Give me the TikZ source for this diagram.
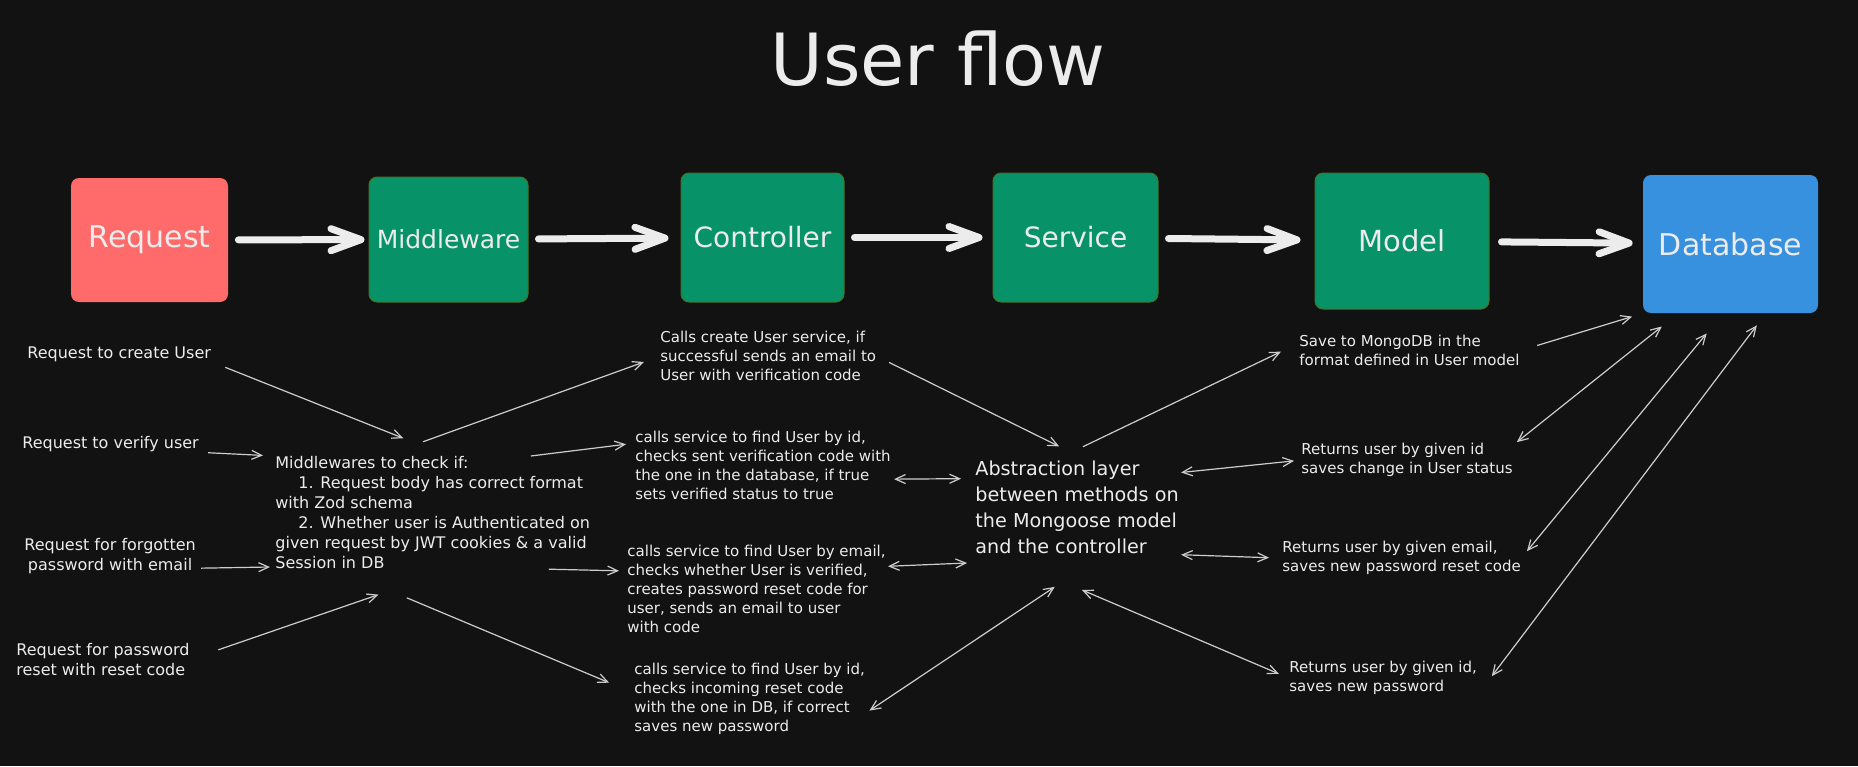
\documentclass[tikz,border=0pt]{standalone}
\usepackage{fontspec}
\setmainfont{DejaVu Sans}
\usepackage{tikz}
\usetikzlibrary{arrows.meta,positioning}
\definecolor{ufbg}{RGB}{18,18,18}
\definecolor{ufred}{RGB}{255,107,107}
\definecolor{ufgreen}{RGB}{8,146,104}
\definecolor{ufgreenline}{RGB}{74,112,32}
\definecolor{ufblue}{RGB}{56,145,222}
\definecolor{uftext}{RGB}{236,236,236}
\definecolor{ufline}{RGB}{205,205,205}
\tikzstyle{layer} = [rectangle, rounded corners=4pt, text centered, text=uftext, font=\fontsize{14}{16}\selectfont]
\tikzstyle{reqbox} = [layer, fill=ufred]
\tikzstyle{codebox} = [layer, fill=ufgreen, draw=ufgreenline, line width=0.5pt]
\tikzstyle{dbbox} = [layer, fill=ufblue]
\tikzstyle{flow} = [line width=3.5pt, color=uftext, line cap=round, >={Straight Barb[length=15pt,width=11pt,round]}, ->]
\tikzstyle{link} = [line width=0.6pt, color=ufline, >={Straight Barb[length=5pt,width=4.5pt]}, ->]
\tikzstyle{note} = [inner sep=0pt, anchor=north west, align=left, text=uftext, font=\fontsize{7.5}{9.5}\selectfont]
\tikzstyle{reqnote} = [note, font=\fontsize{8}{10}\selectfont]

\begin{document}
\begin{tikzpicture}[x=0.5pt,y=-0.5pt]
\fill[ufbg] (0,0) rectangle (1858,766);

% Title
\node[font=\fontsize{36}{40}\selectfont, text=uftext, anchor=base] (title) at (938,85) {User flow};

% Layers
\node[reqbox, minimum width=78.5pt, minimum height=62pt, font=\fontsize{15}{17}\selectfont] (request) at (149.5,240) {Request};
\node[codebox, minimum width=79.5pt, minimum height=62.5pt, font=\fontsize{12.5}{15}\selectfont] (middleware) at (448.5,239.5) {Middleware};
\node[codebox, minimum width=81.5pt, minimum height=64.5pt] (controller) at (762.5,237.5) {Controller};
\node[codebox, minimum width=82.5pt, minimum height=64.5pt] (service) at (1075.5,237.5) {Service};
\node[codebox, minimum width=87pt, minimum height=68pt, font=\fontsize{14.5}{17}\selectfont] (model) at (1402,241) {Model};
\node[dbbox, minimum width=87.5pt, minimum height=69pt, font=\fontsize{15}{17}\selectfont] (database) at (1730.5,244) {Database};

% Main flow
\draw[flow, shorten <=5pt, shorten >=2pt] (request) -- (middleware);
\draw[flow, shorten <=5pt, shorten >=6pt] (middleware) -- (controller);
\draw[flow, shorten <=5pt, shorten >=5pt] (controller) -- (service);
\draw[flow, shorten <=5pt, shorten >=7pt] (service) -- (model);
\draw[flow, shorten <=6pt, shorten >=5pt] (model) -- (database);

% Requests
\node[reqnote] (reqcreate) at (27,346) {Request to create User};
\node[reqnote] (reqverify) at (22,436) {Request to verify user};
\node[reqnote, align=center] (reqforgot) at (24,538) {Request for forgotten\\password with email};
\node[reqnote] (reqreset) at (16,643) {Request for password\\reset with reset code};

% Middleware checks
\node[reqnote] (mwtext) at (275,456) {Middlewares to check if:\\
\hspace*{11.5pt}1. Request body has correct format\\
with Zod schema\\
\hspace*{11.5pt}2. Whether user is Authenticated on\\
given request by JWT cookies \& a valid\\
Session in DB};

% Controller notes
\node[note] (ctrlcreate) at (660,331) {Calls create User service, if\\successful sends an email to\\User with verification code};
\node[note] (ctrlverify) at (635,431) {calls service to find User by id,\\checks sent verification code with\\the one in the database, if true\\sets verified status to true};
\node[note] (ctrlforgot) at (627,545) {calls service to find User by email,\\checks whether User is verified,\\creates password reset code for\\user, sends an email to user\\with code};
\node[note] (ctrlreset) at (634,663) {calls service to find User by id,\\checks incoming reset code\\with the one in DB, if correct\\saves new password};

% Service layer
\node[note, font=\fontsize{9.6}{13}\selectfont] (abstraction) at (975,461) {Abstraction layer\\between methods on\\the Mongoose model\\and the controller};

% Model notes
\node[note] (mdlsave) at (1299,335) {Save to MongoDB in the\\format defined in User model};
\node[note] (mdlverify) at (1301,443) {Returns user by given id\\saves change in User status};
\node[note] (mdlforgot) at (1282,541) {Returns user by given email,\\saves new password reset code};
\node[note] (mdlreset) at (1289,661) {Returns user by given id,\\saves new password};

% Requests into middleware
\draw[link, shorten <=7.5pt, shorten >=24pt] (reqcreate.south east) -- (mwtext.75);
\draw[link, shorten <=4.5pt, shorten >=6pt] (reqverify.south east) -- (mwtext.north west);
\draw[link, shorten <=2.5pt, shorten >=2.5pt] (reqforgot.-8) -- (mwtext.199);
\draw[link, shorten <=15pt, shorten >=39pt] (reqreset.east) -- (mwtext.289);

% Middleware to controller
\draw[link, shorten <=21pt, shorten >=8.5pt] (mwtext.131) -- (ctrlcreate.west);
\draw[link, shorten >=4.5pt] (mwtext.30) -- (ctrlverify.170);
\draw[link, shorten >=4pt] (mwtext.-26) -- (ctrlforgot.172);
\draw[link, shorten <=37pt, shorten >=13.5pt] (mwtext.211) -- (ctrlreset.177);

% Controller to service layer
\draw[link, shorten <=7pt, shorten >=16.5pt] (ctrlcreate.east) -- (abstraction.76);
\draw[link, <->, shorten <=1.5pt, shorten >=7pt] (ctrlverify.-6) -- (abstraction.164);
\draw[link, <->, shorten <=1pt, shorten >=4pt] (ctrlforgot.10) -- ([yshift=-4pt]abstraction.south west);
\draw[link, <->, shorten <=2.5pt, shorten >=29pt] (ctrlreset.-7) -- (abstraction.-61);

% Service layer to model
\draw[link, shorten <=16.5pt, shorten >=10pt] (abstraction.117) -- (mdlsave.176);
\draw[link, <->, shorten <=1pt, shorten >=3.5pt] (abstraction.19) -- (mdlverify.west);
\draw[link, <->, shorten <=1pt, shorten >=6.5pt] (abstraction.south east) -- (mdlforgot.west);
\draw[link, <->, shorten <=45pt, shorten >=5.5pt] (abstraction.211) -- (mdlreset.west);

% Model to database
\draw[link, shorten <=9pt, shorten >=5.5pt] (mdlsave.east) -- (database.south west);
\draw[link, <->, shorten <=2.5pt, shorten >=10.5pt] (mdlverify.8) -- (database.233);
\draw[link, <->, shorten <=4.5pt, shorten >=13pt] (mdlforgot.east) -- (database.264);
\draw[link, <->, shorten <=12pt, shorten >=7.5pt] (mdlreset.south east) -- (database.297);
\end{tikzpicture}
\end{document}
